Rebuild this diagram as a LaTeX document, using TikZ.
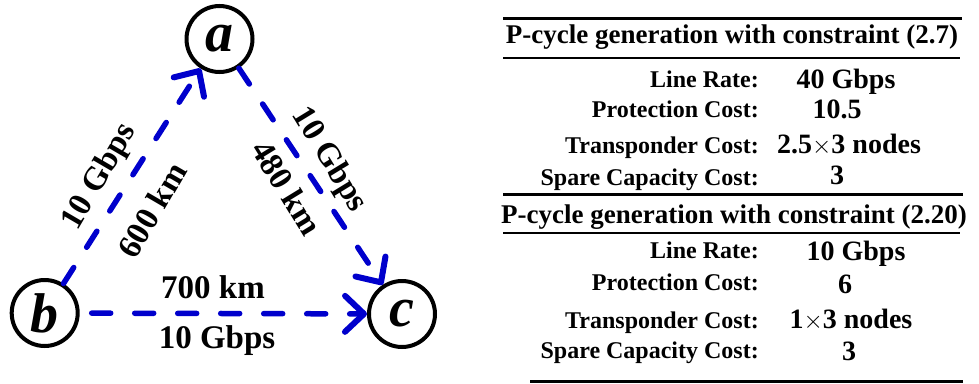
\documentclass[tikz,border=0pt]{standalone}
\usepackage{fontspec}
\setmainfont{Liberation Serif}
\usetikzlibrary{arrows.meta}
\definecolor{edgeblue}{RGB}{0,0,204}
\begin{document}
\begin{tikzpicture}[x=1pt,y=-1pt,
  vertex/.style={circle,draw=black,line width=4pt,minimum size=66pt,inner sep=0pt,font=\fontsize{56}{56}\selectfont\bfseries\itshape},
  link/.style={draw=edgeblue,line width=5.5pt,line cap=round,dash pattern=on 19pt off 24pt,-{Straight Barb[round,length=19pt,width=36pt,line width=6pt]}},
  elabel/.style={font=\fontsize{33}{33}\selectfont\bfseries,inner sep=0pt},
  ttitle/.style={font=\fontsize{27}{27}\selectfont\bfseries,inner sep=0pt,anchor=base},
  tkey/.style={font=\fontsize{24}{24}\selectfont\bfseries,inner sep=0pt,anchor=base east},
  tval/.style={font=\fontsize{28}{28}\selectfont\bfseries,inner sep=0pt,anchor=base},
  thickrule/.style={line width=3pt},
  thinrule/.style={line width=2pt}]
\useasboundingbox (0,0) rectangle (979,383);

% graph
\node[vertex] (a) at (219.5,39) {a};
\node[vertex] (b) at (44.7,313) {b};
\node[vertex] (c) at (402,314) {c};

\draw[link] (b) -- (a);
\draw[link] (a) -- (c);
\draw[link,shorten <=12pt] (b) -- (c);

\node[elabel,rotate=59.7] (lba1) at (100,177) {10 Gbps};
\node[elabel,rotate=59.7] (lba2) at (152,210) {600 km};
\node[elabel,rotate=-58.5] (lac1) at (329,160) {10 Gbps};
\node[elabel,rotate=-58.5] (lac2) at (287,188) {480 km};
\node[elabel,anchor=base] (lbc1) at (213,298) {700 km};
\node[elabel,anchor=base] (lbc2) at (217,348) {10 Gbps};

% table rules
\coordinate (r1l) at (503,18.3); \coordinate (r1r) at (962,18.3);
\coordinate (r2l) at (503,58.3); \coordinate (r2r) at (960,58.3);
\coordinate (r3l) at (503,194.5); \coordinate (r3r) at (963,194.5);
\coordinate (r4l) at (503,233); \coordinate (r4r) at (960,233);
\coordinate (r5l) at (530,381.5); \coordinate (r5r) at (963,381.5);
\draw[thickrule] (r1l) -- (r1r);
\draw[thinrule] (r2l) -- (r2r);
\draw[thickrule] (r3l) -- (r3r);
\draw[thinrule] (r4l) -- (r4r);
\draw[thickrule] (r5l) -- (r5r);

% table 1
\node[ttitle] (t1) at (732,43) {P-cycle generation with constraint (2.7)};
\node[tkey] (k11) at (759,87) {Line Rate:};
\node[tkey] (k12) at (759,117) {Protection Cost:};
\node[tkey] (k13) at (759,153) {Transponder Cost:};
\node[tkey] (k14) at (759,185) {Spare Capacity Cost:};
\node[tval] (v11) at (846,88) {40 Gbps};
\node[tval] (v12) at (837,118) {10.5};
\node[tval] (v13) at (849,153) {2.5$\times$3 nodes};
\node[tval] (v14) at (837,184) {3};

% table 2
\node[ttitle] (t2) at (734,223) {P-cycle generation with constraint (2.20)};
\node[tkey] (k21) at (759,258) {Line Rate:};
\node[tkey] (k22) at (759,290) {Protection Cost:};
\node[tkey] (k23) at (759,328) {Transponder Cost:};
\node[tkey] (k24) at (759,358) {Spare Capacity Cost:};
\node[tval] (v21) at (856,260) {10 Gbps};
\node[tval] (v22) at (845,293) {6};
\node[tval] (v23) at (851,328) {1$\times$3 nodes};
\node[tval] (v24) at (849,360) {3};
\end{tikzpicture}
\end{document}
